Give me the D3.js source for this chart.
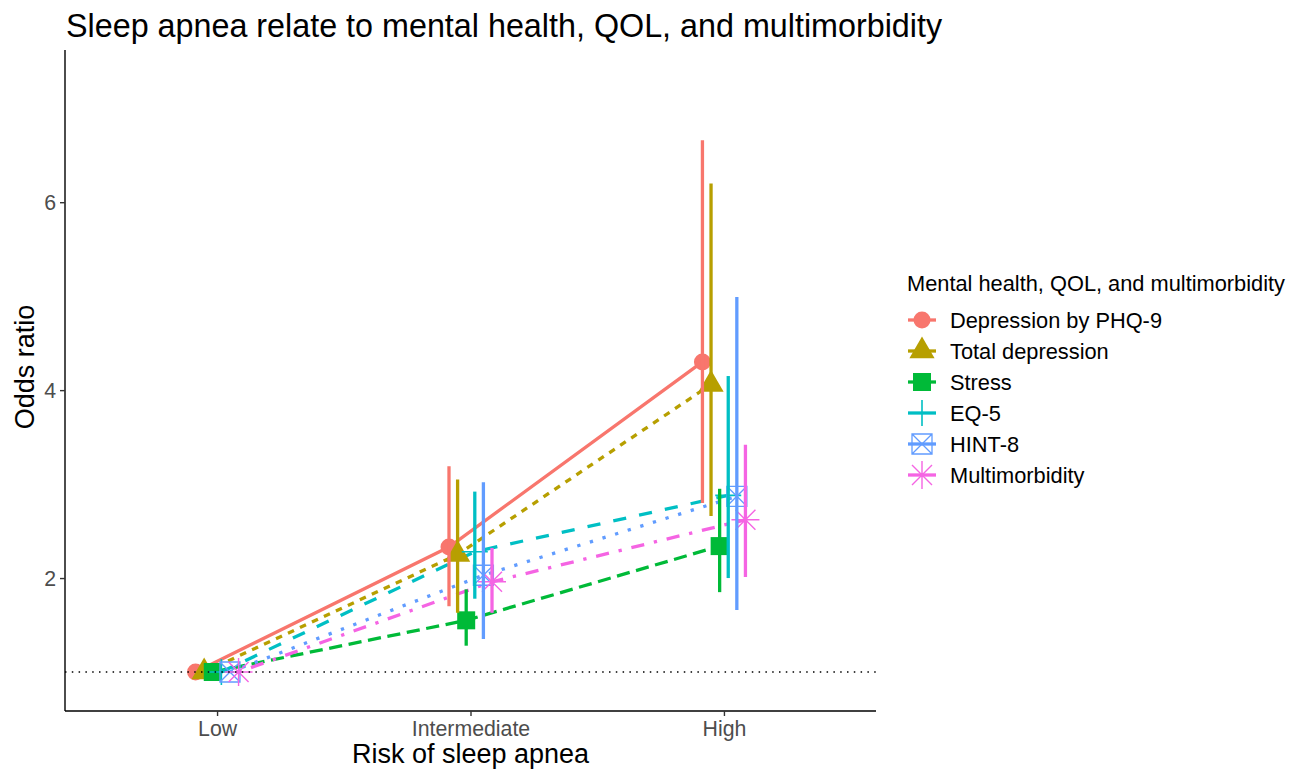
<!DOCTYPE html>
<html>
<head>
<meta charset="utf-8">
<script src="https://cdn.jsdelivr.net/npm/d3@7"></script>
<style>
  body { margin: 0; background: #fff; }
  svg { font-family: "Liberation Sans", Arial, sans-serif; }
</style>
</head>
<body>
<svg width="1303" height="772"></svg>
<script>
// Data
var categories = ["Low", "Intermediate", "High"];
var seriesNames = ["Depression by PHQ-9", "Total depression", "Stress", "EQ-5", "HINT-8", "Multimorbidity"];
var colors = ["#F8766D", "#B79F00", "#00BA38", "#00BFC4", "#619CFF", "#F564E3"];
var shapes = ["circle", "triangle", "square", "plus", "boxcross", "asterisk"];
var dashes = ["", "2,2", "4,2", "4,4", "1,3", "1,3,4,3"];

// odds ratio per category (Low, Intermediate, High)
var phq9 = [1, 2.33, 4.30];
var phq9Lo = [null, 1.70, 2.80];
var phq9Hi = [null, 3.19, 6.66];

var totalDep = [1, 2.25, 4.06];
var totalDepLo = [null, 1.63, 2.66];
var totalDepHi = [null, 3.05, 6.20];

var stress = [1, 1.55, 2.34];
var stressLo = [null, 1.28, 1.85];
var stressHi = [null, 1.88, 2.95];

var eq5 = [1, 2.28, 2.88];
var eq5Lo = [null, 1.78, 2.00];
var eq5Hi = [null, 2.92, 4.15];

var hint8 = [1, 2.03, 2.87];
var hint8Lo = [null, 1.35, 1.66];
var hint8Hi = [null, 3.02, 4.99];

var multi = [1, 1.96, 2.62];
var multiLo = [null, 1.63, 2.01];
var multiHi = [null, 2.32, 3.42];

var yTicks = [2, 4, 6];

var values = [phq9, totalDep, stress, eq5, hint8, multi];
var lows = [phq9Lo, totalDepLo, stressLo, eq5Lo, hint8Lo, multiLo];
var highs = [phq9Hi, totalDepHi, stressHi, eq5Hi, hint8Hi, multiHi];

var series = seriesNames.map(function(name, i) {
    return {
        name: name, color: colors[i], shape: shapes[i], dash: dashes[i],
        points: categories.map(function(c, j) {
            return { cat: c, or: values[i][j], lo: lows[i][j], hi: highs[i][j] };
        })
    };
});

var svg = d3.select("svg");
var lw = 3.3;

// Panel edges
var panelL = 65, panelR = 876, panelT = 50, panelB = 711;

var x = d3.scalePoint().domain(categories).range([panelL, panelR]).padding(0.6);
var dodge = d3.scalePoint().domain(seriesNames).range([-21.5, 21.5]);
var y = d3.scaleLinear().domain([0.585, 7.62]).range([panelB, panelT]);

function px(d, s) { return x(d.cat) + dodge(s.name); }

// Lines
var line = d3.line()
    .x(function(d) { return d.px; })
    .y(function(d) { return y(d.or); });

svg.append("g").attr("class", "lines")
    .selectAll("path")
    .data(series)
    .enter().append("path")
    .attr("fill", "none")
    .attr("stroke", function(s) { return s.color; })
    .attr("stroke-width", lw)
    .attr("stroke-dasharray", function(s) {
        return s.dash ? s.dash.split(",").map(function(v) { return +v * lw; }).join(",") : null;
    })
    .attr("d", function(s) {
        return line(s.points.map(function(d) { return { px: px(d, s), or: d.or }; }));
    });

// Point shapes
function drawShape(g, shape, color) {
    if (shape === "circle") {
        g.append("circle").attr("r", 8.5).attr("fill", color);
    } else if (shape === "triangle") {
        g.append("path").attr("d", "M0,-14.5L12.6,7.25L-12.6,7.25Z").attr("fill", color);
    } else if (shape === "square") {
        g.append("rect").attr("x", -9).attr("y", -9).attr("width", 18).attr("height", 18).attr("fill", color);
    } else if (shape === "plus") {
        g.append("path").attr("d", "M-13,0H13M0,-13V13")
            .attr("stroke", color).attr("stroke-width", 1.6).attr("fill", "none");
    } else if (shape === "boxcross") {
        g.append("path").attr("d", "M-10,-10H10V10H-10ZM-10,-10L10,10M10,-10L-10,10")
            .attr("stroke", color).attr("stroke-width", 1.3).attr("fill", "none");
    } else if (shape === "asterisk") {
        g.append("path").attr("d", "M-14,0H14M0,-14V14M-10,-10L10,10M10,-10L-10,10")
            .attr("stroke", color).attr("stroke-width", 1.4).attr("fill", "none");
    }
}

// Points
svg.append("g").attr("class", "points")
    .selectAll("g")
    .data(series)
    .enter().append("g")
    .each(function(s) {
        var g = d3.select(this);
        s.points.forEach(function(d) {
            var pg = g.append("g").attr("transform", "translate(" + px(d, s) + "," + y(d.or) + ")");
            drawShape(pg, s.shape, s.color);
        });
    });

// Error bars (no caps)
var bars = svg.append("g").attr("class", "errorbars");
series.forEach(function(s) {
    bars.selectAll(null)
        .data(s.points.filter(function(d) { return d.lo != null; }))
        .enter().append("line")
        .attr("x1", function(d) { return px(d, s); })
        .attr("x2", function(d) { return px(d, s); })
        .attr("y1", function(d) { return y(d.lo); })
        .attr("y2", function(d) { return y(d.hi); })
        .attr("stroke", s.color)
        .attr("stroke-width", lw);
});

// Reference line at OR = 1
svg.append("line")
    .attr("x1", panelL).attr("x2", panelR)
    .attr("y1", y(1)).attr("y2", y(1))
    .attr("stroke", "#000")
    .attr("stroke-width", 1.5)
    .attr("stroke-dasharray", "1.5,5.3");

// Axes
var xAxis = svg.append("g")
    .attr("transform", "translate(0," + panelB + ")")
    .call(d3.axisBottom(x).tickSize(5).tickSizeOuter(0));
var yAxis = svg.append("g")
    .attr("transform", "translate(" + panelL + ",0)")
    .call(d3.axisLeft(y).tickValues(yTicks).tickFormat(d3.format("d")).tickSize(5).tickSizeOuter(0));

[xAxis, yAxis].forEach(function(a) {
    a.select(".domain").attr("stroke", "#000").attr("stroke-width", 1.4);
    a.selectAll(".tick line").attr("stroke", "#333").attr("stroke-width", 1.4);
    a.selectAll(".tick text")
        .attr("fill", "#4D4D4D")
        .style("font-size", "21.3px")
        .style("font-family", "'Liberation Sans', Arial, sans-serif");
});
xAxis.select(".domain").attr("d", "M" + panelL + ",0H" + panelR);
yAxis.select(".domain").attr("d", "M0," + panelT + "V" + panelB);
xAxis.selectAll(".tick text").attr("y", 10).attr("dy", "0.71em");
yAxis.selectAll(".tick text").attr("x", -9).attr("dy", "0.35em");

// Titles
svg.append("text")
    .attr("x", 66).attr("y", 37)
    .style("font-size", "32.3px")
    .attr("fill", "#000")
    .text("Sleep apnea relate to mental health, QOL, and multimorbidity");

svg.append("text")
    .attr("x", (panelL + panelR) / 2).attr("y", 763)
    .attr("text-anchor", "middle")
    .style("font-size", "27px")
    .text("Risk of sleep apnea");

svg.append("text")
    .attr("transform", "translate(34,367) rotate(-90)")
    .attr("text-anchor", "middle")
    .style("font-size", "27px")
    .text("Odds ratio");

// Legend
var legend = svg.append("g").attr("transform", "translate(907,0)");
legend.append("text")
    .attr("x", 0).attr("y", 291)
    .style("font-size", "21.8px")
    .text("Mental health, QOL, and multimorbidity");

var keys = legend.selectAll("g.key")
    .data(series)
    .enter().append("g")
    .attr("class", "key")
    .attr("transform", function(s, i) { return "translate(0," + (320 + i * 31) + ")"; });

keys.append("line")
    .attr("x1", 1).attr("x2", 29)
    .attr("stroke", function(s) { return s.color; })
    .attr("stroke-width", lw);

keys.each(function(s) {
    var kg = d3.select(this).append("g").attr("transform", "translate(15,0)");
    drawShape(kg, s.shape, s.color);
});

keys.append("text")
    .attr("x", 43).attr("dy", "0.35em")
    .style("font-size", "21.8px")
    .text(function(s) { return s.name; });
</script>
</body>
</html>
